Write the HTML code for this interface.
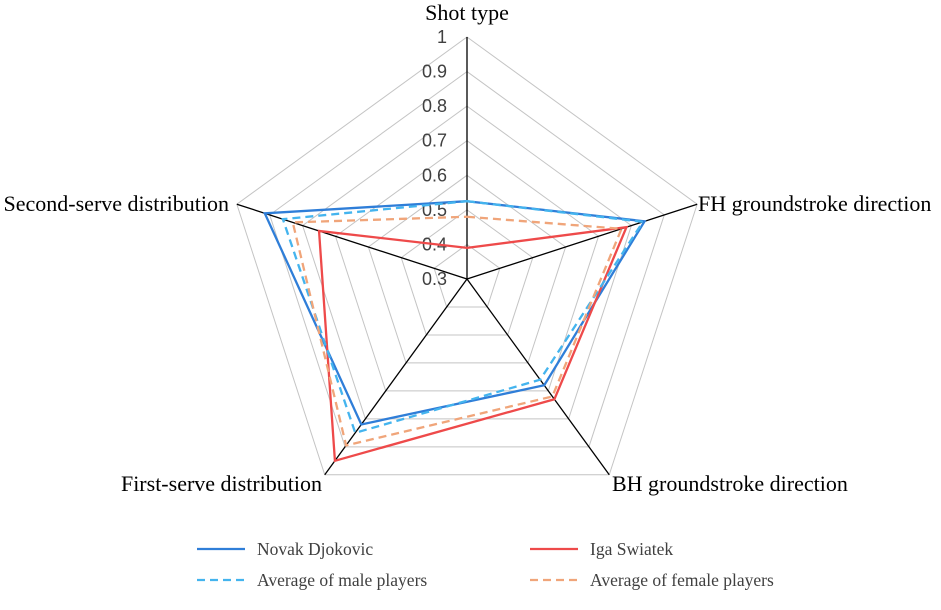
<!DOCTYPE html>
<html><head><meta charset="utf-8"><style>
body{margin:0;background:#fff;}
svg text{font-family:"Liberation Serif",serif;}
</style></head><body>
<svg id="chart" width="941" height="605" xmlns="http://www.w3.org/2000/svg">
<g id="grid"></g>
<g id="axes"></g>
<g id="ticks"></g>
<g id="series"></g>
<g id="cats"></g>
<g id="legend"></g>
</svg>
<script>
const categories=["Shot type","FH groundstroke direction","BH groundstroke direction","First-serve distribution","Second-serve distribution"];
const djokovic=[0.525,0.84,0.68,0.82,0.915];
const swiatek=[0.39,0.785,0.73,0.95,0.75];
const maleAvg=[0.525,0.835,0.66,0.85,0.86];
const femaleAvg=[0.48,0.77,0.72,0.895,0.83];
const tickLabels=["0.3","0.4","0.5","0.6","0.7","0.8","0.9","1"];
const tickValues=[0.3,0.4,0.5,0.6,0.7,0.8,0.9,1];
const seriesNames=["Novak Djokovic","Iga Swiatek","Average of male players","Average of female players"];
const NS="http://www.w3.org/2000/svg";
const cx=467,cy=279,R=242,vmin=0.3,vmax=1;
function rad(v){return (v-vmin)/(vmax-vmin)*R;}
function pt(i,v){const a=-Math.PI/2+i*2*Math.PI/5;const r=rad(v);return [cx+r*Math.cos(a),cy+r*Math.sin(a)];}
function mk(tag,attrs,parent){const e=document.createElementNS(NS,tag);for(const k in attrs)e.setAttribute(k,attrs[k]);parent.appendChild(e);return e;}
const grid=document.getElementById('grid');
tickValues.forEach((t,j)=>{if(t<=vmin)return;const p=categories.map((c,i)=>pt(i,t).join(',')).join(' ');
const e=mk('polygon',{points:p,fill:'none',stroke:'#c4c4c4','stroke-width':1},grid);

});
const axes=document.getElementById('axes');
categories.forEach((c,i)=>{const [x,y]=pt(i,vmax);const e=mk('line',{x1:cx,y1:cy,x2:x,y2:y,stroke:'#000','stroke-width':1.3},axes);

});
const ticks=document.getElementById('ticks');
tickLabels.forEach((l,j)=>{const [x,y]=pt(0,tickValues[j]);const e=mk('text',{x:x-20,y:y+6,'text-anchor':'end','font-size':18,fill:'#404040',style:'font-family:"Liberation Sans",sans-serif'},ticks);e.textContent=l;

});
const series=document.getElementById('series');
const styles=[{d:djokovic,c:'#2f7ed8',dash:''},{d:swiatek,c:'#ee4a4a',dash:''},{d:maleAvg,c:'#44b4ee',dash:'8,5'},{d:femaleAvg,c:'#f0a57a',dash:'8,5'}];
const sNames=['series-djokovic','series-swiatek','series-male-average','series-female-average'];
styles.forEach((s,k)=>{const p=s.d.map((v,i)=>pt(i,v).join(',')).join(' ');
const e=mk('polygon',{points:p,fill:'none',stroke:s.c,'stroke-width':2.3,'stroke-dasharray':s.dash},series);

});
const cats=document.getElementById('cats');
const catPos=[[467,20,'middle'],[698,211,'start'],[612,491,'start'],[322,491,'end'],[229,211,'end']];
categories.forEach((c,i)=>{const e=mk('text',{x:catPos[i][0],y:catPos[i][1],'text-anchor':catPos[i][2],'font-size':22,fill:'#000'},cats);e.textContent=c;

});
const legend=document.getElementById('legend');
const legPos=[[197,549],[530,549],[197,580],[530,580]];
styles.forEach((s,k)=>{const [x,y]=legPos[k];
const g=mk('g',{},legend);


mk('line',{x1:x,y1:y,x2:x+48,y2:y,stroke:s.c,'stroke-width':2.3,'stroke-dasharray':s.dash},g);
const t=mk('text',{x:x+60,y:y+6,'font-size':17.5,fill:'#404040'},g);t.textContent=seriesNames[k];});
</script>
</body></html>
